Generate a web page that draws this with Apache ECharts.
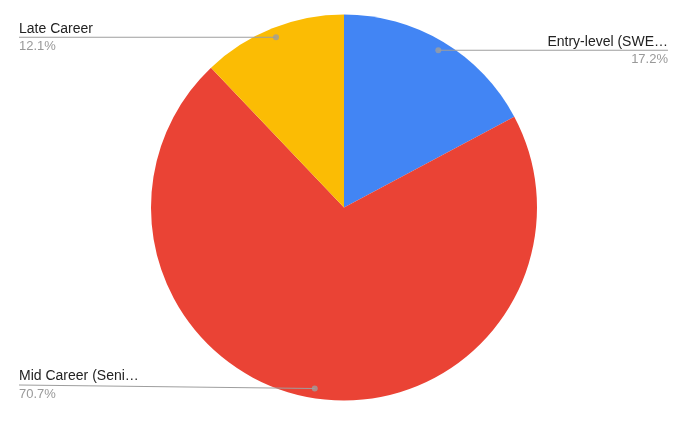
<!DOCTYPE html>
<html>
<head>
<meta charset="utf-8">
<script src="https://cdn.jsdelivr.net/npm/echarts@6/dist/echarts.min.js"></script>
<style>
html,body{margin:0;padding:0;background:#fff;}
#chart{width:685px;height:427px;}
</style>
</head>
<body>
<div id="chart"></div>
<script>
const categories = ['Entry-level (SWE\u2026', 'Mid Career (Seni\u2026', 'Late Career'];
const shares = [17.2, 70.7, 12.1];
const colors = ['#4285F4', '#EA4335', '#FBBC04'];

const W = 685, H = 427;
const CX = 344, CY = 207.5, R = 193;
const DOT_FRAC = 0.95;
const FONT = '"Liberation Sans", Arial, sans-serif';
const LINE_COLOR = '#9e9e9e';

const total = shares.reduce((a, b) => a + b, 0);
const mids = [];
let acc = 0;
shares.forEach(v => { mids.push(acc + v / 2); acc += v; });

function dotPos(i) {
  const theta = (90 - mids[i] / total * 360) * Math.PI / 180;
  return [CX + R * DOT_FRAC * Math.cos(theta), CY - R * DOT_FRAC * Math.sin(theta)];
}
function labelAnchor(i) {
  const d = dotPos(i);
  const lineY = Math.min(d[1], H - 42);
  const right = d[0] > CX;
  return {d: d, lineY: lineY, right: right, edgeX: right ? W - 17 : 19};
}

const pieData = categories.map((c, i) => ({name: c, value: shares[i], itemStyle: {color: colors[i]}}));

const chart = echarts.init(document.getElementById('chart'), null, {renderer: 'canvas'});
chart.setOption({
  animation: false,
  backgroundColor: '#fff',
  polar: {center: [CX, CY], radius: R},
  angleAxis: {type: 'value', min: 0, max: total, startAngle: 90, clockwise: true, show: false},
  radiusAxis: {type: 'value', min: 0, max: 1, show: false},
  series: [
    {
      type: 'pie',
      z: 2,
      center: [CX, CY],
      radius: [0, R],
      startAngle: 90,
      clockwise: true,
      data: pieData,
      itemStyle: {borderWidth: 0},
      emphasis: {disabled: true},
      label: {
        show: true,
        position: 'outside',
        formatter: p => '{n|' + p.name + '}\n{p|' + p.value.toFixed(1) + '%}',
        rich: {
          n: {fontSize: 14, lineHeight: 17, color: '#222222', fontFamily: FONT},
          p: {fontSize: 13, lineHeight: 19, color: '#999999', fontFamily: FONT}
        }
      },
      labelLine: {show: false},
      labelLayout: function (params) {
        const a = labelAnchor(params.dataIndex);
        return {
          x: a.edgeX,
          y: a.lineY - 17,
          align: a.right ? 'right' : 'left',
          verticalAlign: 'top'
        };
      }
    },
    {
      type: 'custom',
      coordinateSystem: 'none',
      silent: true,
      z: 8,
      data: shares.map((v, i) => i),
      renderItem: function (params) {
        const a = labelAnchor(params.dataIndex);
        return {
          type: 'polyline',
          shape: {points: [[a.d[0], a.d[1]], [a.edgeX, a.lineY]]},
          style: {stroke: LINE_COLOR, lineWidth: 1.2, fill: null}
        };
      }
    },
    {
      type: 'scatter',
      coordinateSystem: 'polar',
      symbol: 'circle',
      symbolSize: 6,
      itemStyle: {color: LINE_COLOR},
      silent: true,
      data: mids.map(m => [DOT_FRAC, m]),
      z: 10
    }
  ]
});
</script>
</body>
</html>
